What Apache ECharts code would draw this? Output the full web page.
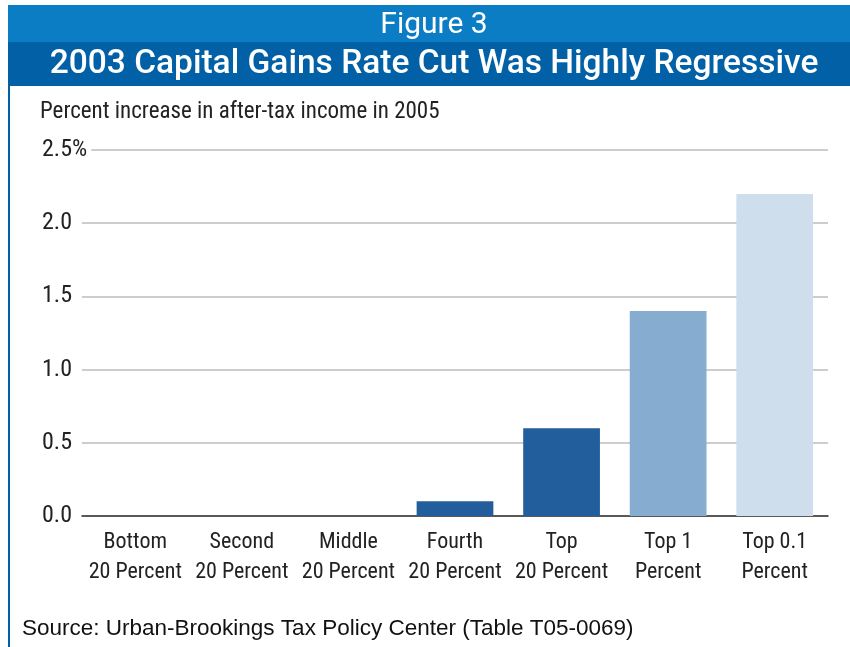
<!DOCTYPE html>
<html>
<head>
<meta charset="utf-8">
<script src="https://cdn.jsdelivr.net/npm/echarts@6/dist/echarts.min.js"></script>
<style>
  html, body { margin: 0; padding: 0; background: #fff; }
  #chart { width: 850px; height: 647px; }
</style>
</head>
<body>
<div id="chart"></div>
<script>
  var categories = ['Bottom\n20 Percent', 'Second\n20 Percent', 'Middle\n20 Percent', 'Fourth\n20 Percent', 'Top\n20 Percent', 'Top 1\nPercent', 'Top 0.1\nPercent'];
  var values = [0, 0, 0, 0.1, 0.6, 1.4, 2.2];
  var barColors = ['#225e9b', '#225e9b', '#225e9b', '#225e9b', '#225e9b', '#86accf', '#cfdeed'];
  var yTicks = [0, 0.5, 1.0, 1.5, 2.0, 2.5];

  var narrow = '"Roboto Condensed", "Liberation Sans Narrow", Roboto, sans-serif';

  var chart = echarts.init(document.getElementById('chart'));

  var option = {
    backgroundColor: '#fff',
    animation: false,
    graphic: [
      { type: 'rect', shape: { x: 8, y: 5, width: 842, height: 37 }, style: { fill: '#0a7dc5' }, z: 0 },
      { type: 'rect', shape: { x: 8, y: 42, width: 842, height: 44 }, style: { fill: '#0160a6' }, z: 0 },
      { type: 'rect', shape: { x: 8, y: 86, width: 2, height: 561 }, style: { fill: '#0160a6' }, z: 0 }
    ],
    title: [
      { text: 'Figure 3', left: 434, top: 10, textAlign: 'center', padding: 0,
        textStyle: { color: '#fff', fontFamily: 'Roboto, sans-serif', fontWeight: 'normal', fontSize: 30 } },
      { text: '2003 Capital Gains Rate Cut Was Highly Regressive', left: 434, top: 48, textAlign: 'center', padding: 0,
        textStyle: { color: '#fff', fontFamily: 'Roboto, sans-serif', fontWeight: 500, fontSize: 33.5 } },
      { text: 'Percent increase in after-tax income in 2005', left: 40, top: 101, padding: 0,
        textStyle: { color: '#222', fontFamily: narrow, fontWeight: 'normal', fontSize: 23 } },
      { text: 'Source: Urban-Brookings Tax Policy Center (Table T05-0069)', left: 22, top: 617, padding: 0,
        textStyle: { color: '#111', fontFamily: 'Arial, "Liberation Sans", sans-serif', fontWeight: 'normal', fontSize: 22.5 } }
    ],
    grid: { left: 82, right: 22, top: 150, bottom: 131, containLabel: false },
    xAxis: {
      type: 'category',
      data: categories,
      axisLine: { show: true, lineStyle: { color: '#333', width: 1.5 } },
      axisTick: { show: false },
      axisLabel: {
        color: '#222', fontFamily: narrow, fontSize: 22, lineHeight: 30, margin: 11, interval: 0
      }
    },
    yAxis: {
      type: 'value',
      min: 0,
      max: 2.5,
      interval: 0.5,
      axisLine: { show: false },
      axisTick: { show: false },
      splitLine: { lineStyle: { color: '#bdbdbd', width: 1.5 } },
      axisLabel: {
        color: '#222', fontFamily: narrow, fontSize: 24, align: 'left', margin: 40,
        backgroundColor: '#fff', padding: [0, 4, 0, 0],
        formatter: function (v) {
          var s = v.toFixed(1);
          return v === yTicks[yTicks.length - 1] ? s + '%' : s;
        }
      }
    },
    series: [{
      type: 'bar',
      barWidth: '72%',
      data: values.map(function (v, i) {
        return { value: v, itemStyle: { color: barColors[i] } };
      })
    }]
  };

  chart.setOption(option);
</script>
</body>
</html>
